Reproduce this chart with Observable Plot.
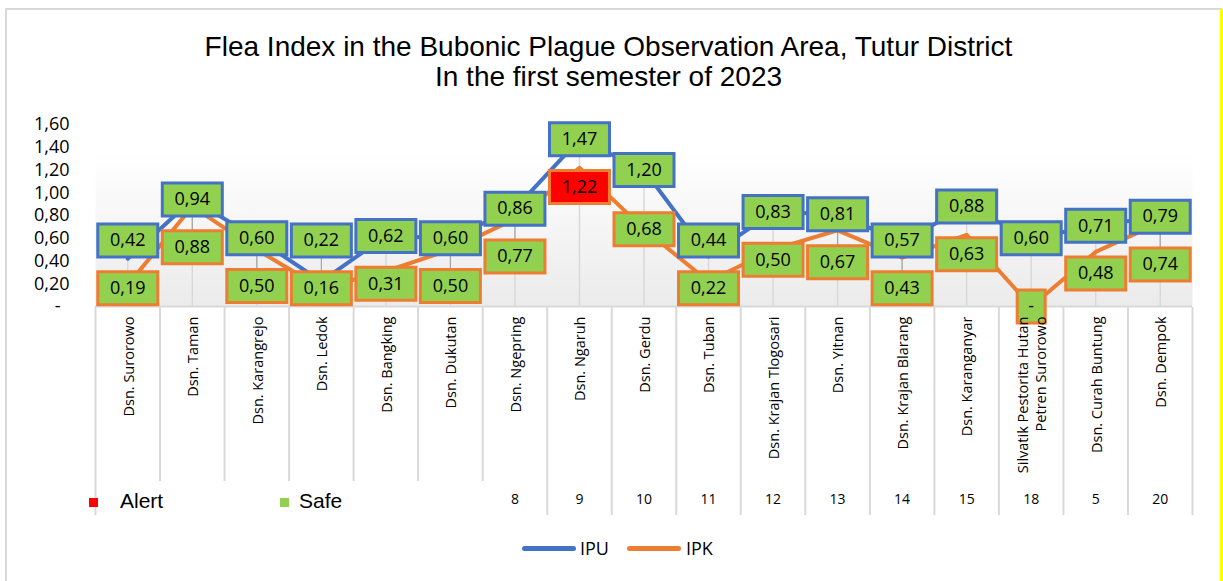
<!DOCTYPE html>
<html>
<head>
<meta charset="utf-8">
<script src="https://cdn.jsdelivr.net/npm/d3@7"></script>
<script src="https://cdn.jsdelivr.net/npm/@observablehq/plot@0.6"></script>
<style>
  body { margin: 0; background: #fff; }
  #wrap { position: relative; width: 1223px; height: 581px; overflow: hidden; background: #fff; }
  #border { position: absolute; left: 5px; top: 8px; width: 1217px; height: 620px; border: 2px solid #d9d9d9; box-sizing: border-box; }
  #yellow { position: absolute; left: 1220px; top: 9px; width: 3px; height: 572px; background: #ffff00; }
  .layer { position: absolute; left: 0; }
  #title { position: absolute; left: 0; width: 1217px; top: 32px; text-align: center;
           font: 28px/30px "Liberation Sans", Arial, sans-serif; color: #000; }
  #statusLegend { position: absolute; left: 97px; top: 481px; width: 388px; height: 34px; background: #fff;
                  font: 21px "Liberation Sans", Arial, sans-serif; color: #000; }
  #statusLegend .sw { position: absolute; width: 9px; height: 9px; top: 17px; }
  #statusLegend .lb { position: absolute; top: 8px; line-height: 24px; }
  #seriesLegend { position: absolute; top: 535px; left: 0; height: 26px; font: 18px "Open Sans", sans-serif; color: #000; }
  #seriesLegend .ln { position: absolute; top: 11px; height: 5px; border-radius: 3px; }
  #seriesLegend .lb { position: absolute; top: 0; line-height: 26px; }
</style>
</head>
<body>
<div id="wrap">
  <div id="border"></div>
  <div id="yellow"></div>
  <div id="tableLayer" class="layer" style="top:307px"></div>
  <div id="statusLegend"></div>
  <div id="chartLayer" class="layer" style="top:0"></div>
  <div id="title">Flea Index in the Bubonic Plague Observation Area, Tutur District<br>In the first semester of 2023</div>
  <div id="seriesLegend"></div>
</div>
<script>
// ---- data ----
const categories = [
  "Dsn. Surorowo", "Dsn. Taman", "Dsn. Karangrejo", "Dsn. Ledok", "Dsn. Bangking",
  "Dsn. Dukutan", "Dsn. Ngepring", "Dsn. Ngaruh", "Dsn. Gerdu", "Dsn. Tuban",
  "Dsn. Krajan Tlogosari", "Dsn. Yitnan", "Dsn. Krajan Blarang", "Dsn. Karanganyar",
  "Silvatik Pestorita Hutan\nPetren Surorowo", "Dsn. Curah Buntung", "Dsn. Dempok"
];
const ipu = [0.42, 0.94, 0.60, 0.22, 0.62, 0.60, 0.86, 1.47, 1.20, 0.44, 0.83, 0.81, 0.57, 0.88, 0.60, 0.71, 0.79];
const ipk = [0.19, 0.88, 0.50, 0.16, 0.31, 0.50, 0.77, 1.22, 0.68, 0.22, 0.50, 0.67, 0.43, 0.63, 0.00, 0.48, 0.74];
const ipuStatus = ["Safe","Safe","Safe","Safe","Safe","Safe","Safe","Safe","Safe","Safe","Safe","Safe","Safe","Safe","Safe","Safe","Safe"];
const ipkStatus = ["Safe","Safe","Safe","Safe","Safe","Safe","Safe","Alert","Safe","Safe","Safe","Safe","Safe","Safe","Safe","Safe","Safe"];
const codes = [null, null, null, null, null, null, 8, 9, 10, 11, 12, 13, 14, 15, 18, 5, 20];
const yTicks = [0, 0.2, 0.4, 0.6, 0.8, 1.0, 1.2, 1.4, 1.6];
const statusNames = ["Alert", "Safe"];
const seriesNames = ["IPU", "IPK"];

// ---- styling ----
const BLUE = "#4472c4", ORANGE = "#ed7d31", GREEN = "#92d050", RED = "#ff0000", GRID = "#d9d9d9";
const fmt = v => v === 0 ? "-" : v.toFixed(2).replace(".", ",");

// rows and label placement (push overlapping labels apart)
const SEP = 0.42, FLOOR = 0.16;
const rows = categories.map((name, i) => {
  let u = ipu[i], k = ipk[i];
  const need = SEP - (u - k);
  if (need > 0) {
    const nk = Math.max(k - need, Math.min(k, FLOOR));
    u = Math.max(u, nk + SEP);
    k = nk;
  }
  return {x: i + 0.5, name, ipu: ipu[i], ipk: ipk[i], code: codes[i], uLab: u, kLab: k};
});
const labels = rows.flatMap((r, i) => [
  {x: r.x, value: r.ipu, ly: r.uLab, series: "IPU", status: ipuStatus[i]},
  {x: r.x, value: r.ipk, ly: r.kLab, series: "IPK", status: ipkStatus[i]}
]);
const uLabels = labels.filter(d => d.series === "IPU");
const kLabels = labels.filter(d => d.series === "IPK");

const boxWide = {draw(ctx) { ctx.rect(-30, -16.5, 60, 33); }};
const boxNarrow = {draw(ctx) { ctx.rect(-14, -16.5, 28, 33); }};

const colorOpts = {domain: statusNames, range: [RED, GREEN]};

const chart = Plot.plot({
  width: 1223, height: 581,
  marginTop: 124, marginBottom: 275, marginLeft: 95, marginRight: 31,
  x: {domain: [0, 17]},
  y: {domain: [0, 1.6]},
  color: colorOpts,
  style: {fontFamily: "'Open Sans', sans-serif", background: "transparent", overflow: "visible", color: "#000"},
  marks: [
    Plot.frame({fill: "url(#bgGrad)", stroke: null}),
    Plot.ruleY([0], {stroke: GRID, strokeWidth: 2}),
    Plot.ruleX(rows, {x: "x", y1: 0, y2: d => Math.max(d.ipu, d.ipk), stroke: GRID, strokeWidth: 1.5}),
    Plot.link(labels, {x1: "x", x2: "x", y1: "value", y2: "ly", stroke: "#a6a6a6", strokeWidth: 1.2}),
    Plot.line(rows, {x: "x", y: "ipu", stroke: BLUE, strokeWidth: 4}),
    Plot.line(rows, {x: "x", y: "ipk", stroke: ORANGE, strokeWidth: 4}),
    Plot.dot(uLabels, {x: "x", y: "ly", symbol: boxWide, r: 5, fill: "status", stroke: BLUE, strokeWidth: 3}),
    Plot.text(uLabels, {x: "x", y: "ly", text: d => fmt(d.value), fontSize: 18, fill: "#000"}),
    Plot.dot(kLabels.filter(d => d.value !== 0), {x: "x", y: "ly", symbol: boxWide, r: 5, fill: "status", stroke: ORANGE, strokeWidth: 3}),
    Plot.dot(kLabels.filter(d => d.value === 0), {x: "x", y: "ly", symbol: boxNarrow, r: 5, fill: "status", stroke: ORANGE, strokeWidth: 3}),
    Plot.text(kLabels, {x: "x", y: "ly", text: d => fmt(d.value), fontSize: 18, fill: "#000"}),
    Plot.axisY(yTicks, {tickSize: 0, tickPadding: 26, tickFormat: d => d === 0 ? "-\u2002" : fmt(d), fontSize: 18, label: null}),
    Plot.axisX(rows.map(r => r.x), {tickSize: 0, tickPadding: 10, tickRotate: -90, lineHeight: 1.25,
      tickFormat: x => categories[Math.floor(x)], fontSize: 14.5, label: null})
  ]
});
// gradient for plot-area background
const svgSel = d3.select(chart.tagName.toLowerCase() === "svg" ? chart : chart.querySelector("svg"));
const grad = svgSel.insert("defs", ":first-child").append("linearGradient")
  .attr("id", "bgGrad").attr("x1", 0).attr("y1", 0).attr("x2", 0).attr("y2", 1);
grad.append("stop").attr("offset", "0%").attr("stop-color", "#ffffff");
grad.append("stop").attr("offset", "15%").attr("stop-color", "#ffffff");
grad.append("stop").attr("offset", "100%").attr("stop-color", "#ebebeb");
svgSel.selectAll('[aria-label="frame"]').each(function() {
  const s = d3.select(this);
  if (this.tagName.toLowerCase() === "rect") s.attr("fill", "url(#bgGrad)");
  s.selectAll("rect").attr("fill", "url(#bgGrad)");
});
document.getElementById("chartLayer").appendChild(chart);

// table (cell borders + codes row)
const table = Plot.plot({
  width: 1223, height: 208,
  marginTop: 0, marginBottom: 0, marginLeft: 95, marginRight: 31,
  x: {domain: [0, 17], axis: null},
  style: {fontFamily: "'Open Sans', sans-serif", background: "transparent", color: "#000"},
  marks: [
    Plot.ruleX(d3.range(categories.length + 1), {stroke: GRID, strokeWidth: 2}),
    Plot.text(rows.filter(r => r.code != null), {x: "x", text: d => String(d.code), frameAnchor: "bottom", dy: -12, fontSize: 14, fill: "#000"})
  ]
});
document.getElementById("tableLayer").appendChild(table);

// status legend (Alert / Safe)
const sl = d3.select("#statusLegend");
const slPos = [{sw: -8, lb: 23}, {sw: 183, lb: 202}];
statusNames.forEach((s, i) => {
  sl.append("div").attr("class", "sw").style("left", slPos[i].sw + "px").style("background", colorOpts.range[i]);
  sl.append("div").attr("class", "lb").style("left", slPos[i].lb + "px").text(s);
});

// series legend (IPU / IPK)
const lg = d3.select("#seriesLegend");
const lgPos = [{l: 522, lb: 580}, {l: 627, lb: 686}];
seriesNames.forEach((s, i) => {
  lg.append("div").attr("class", "ln").style("left", lgPos[i].l + "px").style("width", "54px").style("background", i === 0 ? BLUE : ORANGE);
  lg.append("div").attr("class", "lb").style("left", lgPos[i].lb + "px").text(s);
});
</script>
</body>
</html>
